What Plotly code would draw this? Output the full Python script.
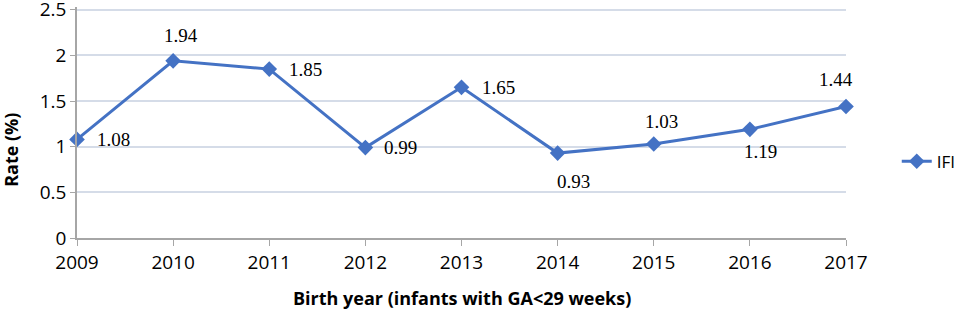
import plotly.graph_objects as go

years = [2009, 2010, 2011, 2012, 2013, 2014, 2015, 2016, 2017]
ifi_rate = [1.08, 1.94, 1.85, 0.99, 1.65, 0.93, 1.03, 1.19, 1.44]
y_ticks = [0, 0.5, 1, 1.5, 2, 2.5]
y_tick_text = ["0", "0.5", "1", "1.5", "2", "2.5"]

# pixel offsets of each data label from its point (style only)
label_dx = [36, 8, 36, 35, 37, 16, 8, 11, -10]
label_dy = [0, 25, 0, 0, 0, -28, 22, -22, 27]

color = "#4472C4"
axis_font = "Open Sans, Lato, sans-serif"
label_font = dict(family="Liberation Serif, Times New Roman, serif", size=19, color="#000")

fig = go.Figure()
fig.add_trace(go.Scatter(
    x=years, y=ifi_rate, name="IFI",
    mode="lines+markers",
    line=dict(color=color, width=3),
    marker=dict(symbol="diamond", size=12, color=color),
    cliponaxis=False,
))

annotations = []
for x, v, dx, dy in zip(years, ifi_rate, label_dx, label_dy):
    annotations.append(dict(
        x=x, y=v, xref="x", yref="y", text=f"{v:.2f}", showarrow=False,
        xshift=dx, yshift=dy, xanchor="center", yanchor="middle", font=label_font,
    ))
annotations.append(dict(
    x=0.5, y=-0.258, xref="paper", yref="paper",
    text="<b>Birth year (infants with GA<29 weeks)</b>", showarrow=False,
    xanchor="center", yanchor="middle",
    font=dict(family=axis_font, size=18, color="#000"),
))
annotations.append(dict(
    x=-0.086, y=0.381, xref="paper", yref="paper",
    text="<b>Rate (%)</b>", showarrow=False, textangle=-90,
    xanchor="center", yanchor="middle",
    font=dict(family=axis_font, size=18, color="#000"),
))

fig.update_layout(
    width=969, height=310,
    margin=dict(l=77, r=123, t=7, b=72),
    paper_bgcolor="white", plot_bgcolor="white",
    showlegend=True,
    legend=dict(x=1.066, y=0.33, xanchor="left", yanchor="middle",
                font=dict(family=axis_font, size=17, color="#000"),
                bgcolor="rgba(0,0,0,0)", borderwidth=0),
    annotations=annotations,
    xaxis=dict(
        range=[2009, 2017], tickmode="array", tickvals=years,
        ticktext=[str(y) for y in years],
        showgrid=False, showline=True, linecolor="#A6A6A6", linewidth=1.5,
        ticks="outside", ticklen=6, tickcolor="#A6A6A6",
        tickfont=dict(family=axis_font, size=19, color="#000"),
        zeroline=False, automargin=False, ticklabeloverflow="allow",
    ),
    yaxis=dict(
        range=[0, 2.53], tickmode="array", tickvals=y_ticks, ticktext=y_tick_text,
        showgrid=True, gridcolor="#D5DCE8", gridwidth=1.5,
        showline=True, linecolor="#A6A6A6", linewidth=1.5,
        ticks="outside", ticklen=5, tickcolor="#A6A6A6",
        tickfont=dict(family=axis_font, size=19, color="#000"),
        zeroline=False, automargin=False, ticklabeloverflow="allow",
    ),
)

fig.write_html("out.html", config={"displayModeBar": False},
               post_script="document.body.style.margin='0';")
